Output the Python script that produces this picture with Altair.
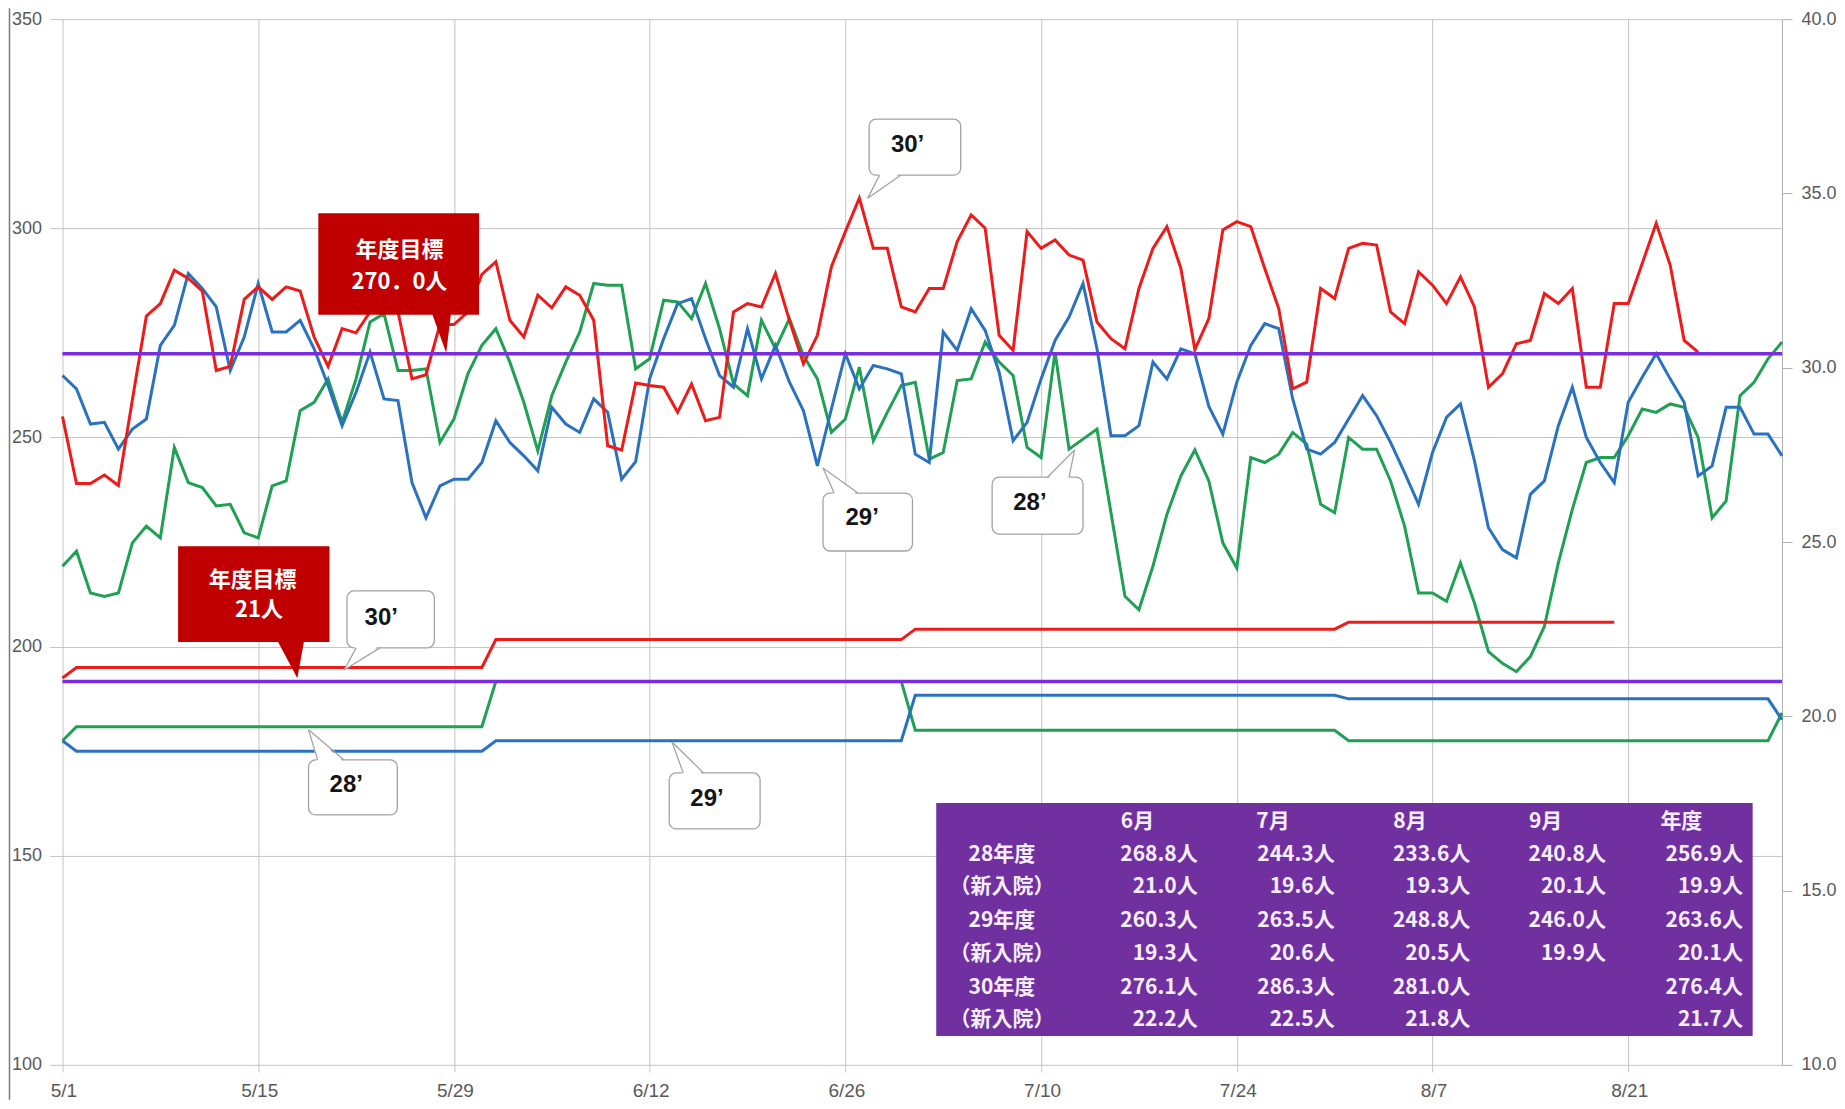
import json
import altair as alt
import pandas as pd

# ---------------- data ----------------
tick_days = [0, 14, 28, 42, 56, 70, 84, 98, 112]
tick_labels = ["5/1", "5/15", "5/29", "6/12", "6/26", "7/10", "7/24", "8/7", "8/21"]
left_ticks = [100, 150, 200, 250, 300, 350]
right_ticks = [10, 15, 20, 25, 30, 35, 40]

# daily inpatients (left axis), day 0 = 5/1
census_30 = [
    255, 239, 239, 241, 238.5, 259, 279, 282, 290, 288,
    285, 266, 267, 283, 286, 283, 286, 285, 274, 267,
    276, 275, 280, 280, 280, 264, 265, 277, 277, 280,
    289, 292, 278, 274, 284, 281, 286, 284, 278, 248,
    247, 263, 262.4, 262, 256, 262.8, 254, 254.8, 280, 282,
    281.2, 289.2, 278, 267.6, 274.4, 290.8, 299.2, 307.2, 295.2, 295.2,
    281.2, 280, 285.6, 285.6, 296.8, 303.2, 300, 274.4, 270.8, 299.2,
    295.2, 297.2, 293.6, 292.4, 277.6, 273.6, 271.2, 285.6, 295.2, 300.4,
    290.4, 271, 278.4, 299.6, 301.6, 300.4, 290.4, 280.8, 261.6, 263.2,
    285.6, 283.2, 295.2, 296.4, 296, 280, 277.2, 289.6, 286.4, 282,
    288.4, 281.2, 262, 265.2, 272.4, 273.2, 284.4, 282, 285.6, 262,
    262, 282, 282, 291.6, 301.2, 291.2, 273.2, 270.4]

census_29 = [
    264.8, 261.6, 253.2, 253.6, 247.2, 252, 254.4, 272, 276.8, 289.2,
    285.6, 281.2, 266, 274, 286.8, 275.2, 275.2, 278, 271.2, 262.4,
    252.8, 260.8, 270.4, 259.2, 258.8, 239.2, 230.8, 238.4, 240, 240,
    244, 254, 248.8, 245.6, 242, 257.2, 253.2, 251.2, 259.2, 256,
    240, 244.2, 264, 273.6, 282, 283.2, 273.6, 264.8, 262, 276,
    264, 272, 263.2, 256.4, 243.2, 256.8, 270, 261.6, 267.2, 266.4,
    265.2, 246, 244, 275.2, 270.8, 280.8, 275.6, 265.6, 249.2, 253.6,
    264, 273.2, 278.8, 286.8, 271.2, 250.4, 250.4, 252.8, 268, 264,
    271.2, 270, 257.4, 250.8, 263.2, 272, 277.2, 276, 259.2, 247.2,
    246, 248.8, 254.4, 260, 255.2, 248.8, 241.6, 234, 246.4, 254.8,
    258, 244.4, 228.4, 223.2, 221.2, 236.4, 239.6, 252.8, 262, 250,
    244, 239.2, 258.4, 264.4, 270, 264, 258.4, 240.8, 243.2, 257.2,
    257.2, 250.8, 250.8, 245.6]

census_28 = [
    219.2, 222.8, 212.8, 212, 212.8, 224.8, 228.8, 226, 247.6, 239.2,
    238, 233.6, 234, 227.2, 226, 238.4, 239.6, 256.4, 258.4, 264,
    253.6, 264, 277.6, 279.6, 266, 266, 266.4, 248.8, 254.4, 265.2,
    272, 276, 268, 258.4, 246.8, 260, 268, 275.2, 286.8, 286.4,
    286.4, 266.4, 268.8, 282.8, 282.4, 278.4, 286.8, 276, 262.8, 260,
    278, 271.2, 278.4, 269.6, 264, 251.2, 254.4, 266.8, 249.2, 256,
    262.4, 263.2, 244.8, 246.4, 263.6, 264, 272.8, 268, 264.8, 247.6,
    245.2, 270.4, 247.2, 249.6, 252, 232, 212, 208.8, 219.2, 231.6,
    240.8, 247, 239.6, 224.8, 218.8, 245.2, 244, 246, 251.2, 248.4,
    234, 232, 250, 247.2, 247.2, 239.6, 228.8, 212.8, 212.8, 210.8,
    220, 210.4, 198.8, 196, 194, 197.6, 204.8, 220, 232.8, 244,
    245.2, 245.2, 250.4, 256.8, 256, 258, 257.2, 250, 230.8, 234.8,
    260, 263.2, 268.8, 272.8]

# new admissions, month-level averages shown for each day (right axis)
new_adm_30 = [21.1] + [21.4] * 30 + [22.2] * 30 + [22.5] * 31 + [22.7] * 20
new_adm_29 = [19.3] + [19.0] * 30 + [19.3] * 30 + [20.6] * 31 + [20.5] * 31 + [19.9]
new_adm_28 = [19.3] + [19.7] * 30 + [21.0] * 30 + [19.6] * 31 + [19.3] * 31 + [20.1]

target_census = 270.0
target_new = 21.0

table_cols = ["6月", "7月", "8月", "9月", "年度"]
table_rows = ["28年度", "（新入院）", "29年度", "（新入院）", "30年度", "（新入院）"]
table_vals = [
    [268.8, 244.3, 233.6, 240.8, 256.9],
    [21.0, 19.6, 19.3, 20.1, 19.9],
    [260.3, 263.5, 248.8, 246.0, 263.6],
    [19.3, 20.6, 20.5, 19.9, 20.1],
    [276.1, 286.3, 281.0, None, 276.4],
    [22.2, 22.5, 21.8, None, 21.7],
]

# ---------------- styling ----------------
W, H = 1720, 1046
RED, BLUE, GREEN, PURPLE = "#ee1b1b", "#2a72c0", "#1fa052", "#7b2be0"
DARKRED, TABLE_BG = "#c00000", "#7030a0"
GRID, LABEL = "#c4c4c4", "#595959"
AXFONT = "Liberation Sans"
JPFONT = "Noto Sans CJK JP"
LW = 3

xs = alt.Scale(domain=[0, 123], nice=False, zero=False)
ys_left = alt.Scale(domain=[100, 350], nice=False, zero=False)
ys_right = alt.Scale(domain=[10, 40], nice=False, zero=False)

label_expr = f"{json.dumps(tick_labels)}[indexof({json.dumps(tick_days)}, datum.value)]"
x_axis = alt.Axis(values=tick_days, labelExpr=label_expr, grid=True, gridColor=GRID,
                  gridWidth=1, domain=False, tickSize=7, tickColor=GRID,
                  labelFont=AXFONT, labelFontSize=19, labelColor=LABEL,
                  labelPadding=10, labelOffset=1, labelFlush=False,
                  labelOverlap=False, title=None)
yl_axis = alt.Axis(orient="left", values=left_ticks, grid=True, gridColor=GRID,
                   gridWidth=1, domain=False, tickSize=13, tickColor=GRID,
                   labelFont=AXFONT, labelFontSize=18, labelColor=LABEL,
                   labelPadding=8, title=None)
yr_axis = alt.Axis(orient="right", values=right_ticks, format=".1f", grid=False,
                   domain=True, domainColor="#b0b0b0", tickSize=10, tickColor="#b0b0b0",
                   labelFont=AXFONT, labelFontSize=18, labelColor=LABEL,
                   labelPadding=9, title=None)


def series_df(vals):
    return pd.DataFrame({"day": list(range(len(vals))), "v": vals})


def xenc(field="day"):
    # the same axis definition on every layer so that they merge into one axis
    return alt.X(f"{field}:Q", scale=xs, axis=x_axis)


# ---------- left-scale group: daily census ----------
left_layers = []
for vals, col in [(census_28, GREEN), (census_29, BLUE), (census_30, RED)]:
    left_layers.append(
        alt.Chart(series_df(vals)).mark_line(color=col, strokeWidth=LW).encode(
            x=xenc(), y=alt.Y("v:Q", scale=ys_left, axis=yl_axis)
        )
    )
left_layers.append(
    alt.Chart(pd.DataFrame({"day": [0, 123], "v": [target_census] * 2}))
    .mark_line(color=PURPLE, strokeWidth=3.5)
    .encode(x=xenc(), y=alt.Y("v:Q", scale=ys_left, axis=yl_axis))
)
left_group = alt.layer(*left_layers)

# ---------- right-scale group: new admissions ----------
right_layers = []
for vals, col in [(new_adm_28, GREEN), (new_adm_29, BLUE), (new_adm_30, RED)]:
    d = pd.DataFrame({"day": list(range(len(vals))), "r": vals})
    right_layers.append(
        alt.Chart(d).mark_line(color=col, strokeWidth=LW).encode(
            x=xenc(), y=alt.Y("r:Q", scale=ys_right, axis=yr_axis)
        )
    )
right_layers.append(
    alt.Chart(pd.DataFrame({"day": [0, 123], "r": [target_new] * 2}))
    .mark_line(color=PURPLE, strokeWidth=3.5)
    .encode(x=xenc(), y=alt.Y("r:Q", scale=ys_right, axis=yr_axis))
)
right_group = alt.layer(*right_layers)

# ---------- annotations (placed in chart units) ----------
def tri_rows(cid, xl, xr, yb, xt, yt):
    pts = [(xl, yb), (xr, yb), (xt, yt)]
    edges = [(pts[0], pts[1]), (pts[1], pts[2]), (pts[2], pts[0])]
    rows = []
    for x in sorted({xl, xr, xt}):
        ys = []
        for (ax, ay), (bx, by) in edges:
            if abs(ax - bx) < 1e-9:
                if abs(ax - x) < 1e-9:
                    ys += [ay, by]
            elif min(ax, bx) - 1e-9 <= x <= max(ax, bx) + 1e-9:
                ys.append(ay + (by - ay) * (x - ax) / (bx - ax))
        rows.append({"id": cid, "x": x, "lo": min(ys), "hi": max(ys)})
    return rows


# red target callouts: box (x1,x2,ytop,ybottom), pointer base (xl,xr), tip (xt,yt), texts
red_callouts = [
    dict(box=(18.3, 29.8, 303.6, 279.3), base=(26.4, 27.8), tip=(27.45, 270.2),
         texts=[("年度目標", 24.1, 294.8), ("270．0人", 24.1, 287.1)]),
    dict(box=(8.27, 19.1, 224.0, 201.1), base=(15.33, 17.3), tip=(16.8, 192.4),
         texts=[("年度目標", 13.6, 215.9), ("21人", 14.05, 208.75)]),
]
# series-name callouts
white_callouts = [
    dict(label="30’", box=(57.7, 64.25, 326.1, 312.7), base=(58.45, 59.95), side="bottom",
         tip=(57.6, 307.2), text=(60.45, 319.9)),
    dict(label="29’", box=(54.4, 60.8, 236.7, 222.85), base=(55.2, 56.9), side="top",
         tip=(54.4, 242.7), text=(57.2, 230.7)),
    dict(label="28’", box=(66.5, 73.0, 240.5, 226.9), base=(70.45, 72.0), side="top",
         tip=(72.4, 247.0), text=(69.2, 234.3)),
    dict(label="30’", box=(20.35, 26.6, 213.3, 199.7), base=(21.0, 22.7), side="bottom",
         tip=(20.15, 194.4), text=(22.8, 206.8)),
    dict(label="28’", box=(17.6, 23.95, 172.9, 159.75), base=(18.25, 20.15), side="top",
         tip=(17.6, 180.1), text=(20.3, 166.9)),
    dict(label="29’", box=(43.4, 49.9, 169.8, 156.4), base=(44.4, 45.85), side="top",
         tip=(43.6, 177.2), text=(46.1, 163.6)),
]

ANX = lambda f: alt.X(f"{f}:Q", scale=xs, axis=x_axis)
ANY = lambda f: alt.Y(f"{f}:Q", scale=ys_left, axis=None)

annot = []

# red boxes + pointers + text
rb, rt, rtxt = [], [], []
for i, c in enumerate(red_callouts):
    x1, x2, yt_, yb_ = c["box"]
    rb.append({"x1": x1, "x2": x2, "y1": yt_, "y2": yb_})
    rt += tri_rows(i, c["base"][0], c["base"][1], yb_ + 0.6, c["tip"][0], c["tip"][1])
    for t, tx, ty in c["texts"]:
        rtxt.append({"x": tx, "y": ty, "t": t})
annot.append(alt.Chart(pd.DataFrame(rb)).mark_rect(color=DARKRED).encode(
    x=ANX("x1"), x2="x2", y=ANY("y1"), y2="y2"))
annot.append(alt.Chart(pd.DataFrame(rt)).mark_area(color=DARKRED, opacity=1).encode(
    x=ANX("x"), y=ANY("lo"), y2="hi", detail="id:N"))
annot.append(alt.Chart(pd.DataFrame(rtxt)).mark_text(
    font=JPFONT, fontWeight="bold", fontSize=22, color="white", baseline="middle").encode(
    x=ANX("x"), y=ANY("y"), text="t:N"))

# white boxes + pointers + edges + text
wb, wt, we, wtxt = [], [], [], []
for i, c in enumerate(white_callouts):
    x1, x2, yt_, yb_ = c["box"]
    wb.append({"x1": x1, "x2": x2, "y1": yt_, "y2": yb_})
    by = yb_ if c["side"] == "bottom" else yt_
    inner = by + 0.6 if c["side"] == "bottom" else by - 0.6
    xl, xr = c["base"]
    tx, ty = c["tip"]
    wt += tri_rows(i, xl, xr, inner, tx, ty)
    we.append({"x": xl, "y": by, "x2": tx, "y2": ty})
    we.append({"x": xr, "y": by, "x2": tx, "y2": ty})
    wtxt.append({"x": c["text"][0], "y": c["text"][1], "t": c["label"]})
annot.append(alt.Chart(pd.DataFrame(wb)).mark_rect(
    fill="white", stroke="#a3a3a3", strokeWidth=1.3, cornerRadius=7).encode(
    x=ANX("x1"), x2="x2", y=ANY("y1"), y2="y2"))
annot.append(alt.Chart(pd.DataFrame(wt)).mark_area(color="white", opacity=1).encode(
    x=ANX("x"), y=ANY("lo"), y2="hi", detail="id:N"))
annot.append(alt.Chart(pd.DataFrame(we)).mark_rule(color="#a3a3a3", strokeWidth=1.3).encode(
    x=ANX("x"), x2="x2", y=ANY("y"), y2="y2"))
annot.append(alt.Chart(pd.DataFrame(wtxt)).mark_text(
    font=AXFONT, fontWeight="bold", fontSize=24, color="#151515", baseline="middle").encode(
    x=ANX("x"), y=ANY("y"), text="t:N"))

# summary table
tbl_box = pd.DataFrame([{"x1": 62.5, "x2": 120.9, "y1": 162.6, "y2": 106.9}])
annot.append(alt.Chart(tbl_box).mark_rect(color=TABLE_BG).encode(
    x=ANX("x1"), x2="x2", y=ANY("y1"), y2="y2"))
header_y = 158.1
row_y = [150.2, 142.5, 134.4, 126.5, 118.4, 110.8]
label_x = 67.2
head_x = [75.7, 85.4, 95.2, 104.9, 114.3]
val_x = [81.2, 91.0, 100.7, 110.4, 120.2]
TTXT = "#f6eeff"
hdr = pd.DataFrame([{"x": hx, "y": header_y, "t": t} for hx, t in zip(head_x, table_cols)])
annot.append(alt.Chart(hdr).mark_text(font=JPFONT, fontWeight="bold", fontSize=21, color=TTXT,
                                      align="left", baseline="middle").encode(
    x=ANX("x"), y=ANY("y"), text="t:N"))
rl = pd.DataFrame([{"x": label_x, "y": ry, "t": t} for ry, t in zip(row_y, table_rows)])
annot.append(alt.Chart(rl).mark_text(font=JPFONT, fontWeight="bold", fontSize=21, color=TTXT,
                                     align="center", baseline="middle").encode(
    x=ANX("x"), y=ANY("y"), text="t:N"))
cells = []
for ry, row in zip(row_y, table_vals):
    for vx, v in zip(val_x, row):
        if v is not None:
            cells.append({"x": vx, "y": ry, "t": f"{v:.1f}人"})
annot.append(alt.Chart(pd.DataFrame(cells)).mark_text(
    font=JPFONT, fontWeight="bold", fontSize=21, color=TTXT, align="right",
    baseline="middle").encode(x=ANX("x"), y=ANY("y"), text="t:N"))

# far-left frame line of the original picture
annot.append(
    alt.Chart(pd.DataFrame({"k": [0]})).mark_rule(color="#7a7a7a", strokeWidth=1.5).encode(
        x=alt.value(-53), y=alt.value(-11), y2=alt.value(H + 35)
    )
)

annot_group = alt.layer(*annot)

chart = (
    alt.layer(left_group, right_group, annot_group)
    .resolve_scale(y="independent")
    .properties(width=W, height=H,
                padding={"left": 54.5, "top": 11, "right": 55, "bottom": 35},
                autosize=alt.AutoSizeParams(type="none"))
    .configure_view(stroke=None)
)

chart.save("out.html", embed_options={"renderer": "svg", "actions": False})
